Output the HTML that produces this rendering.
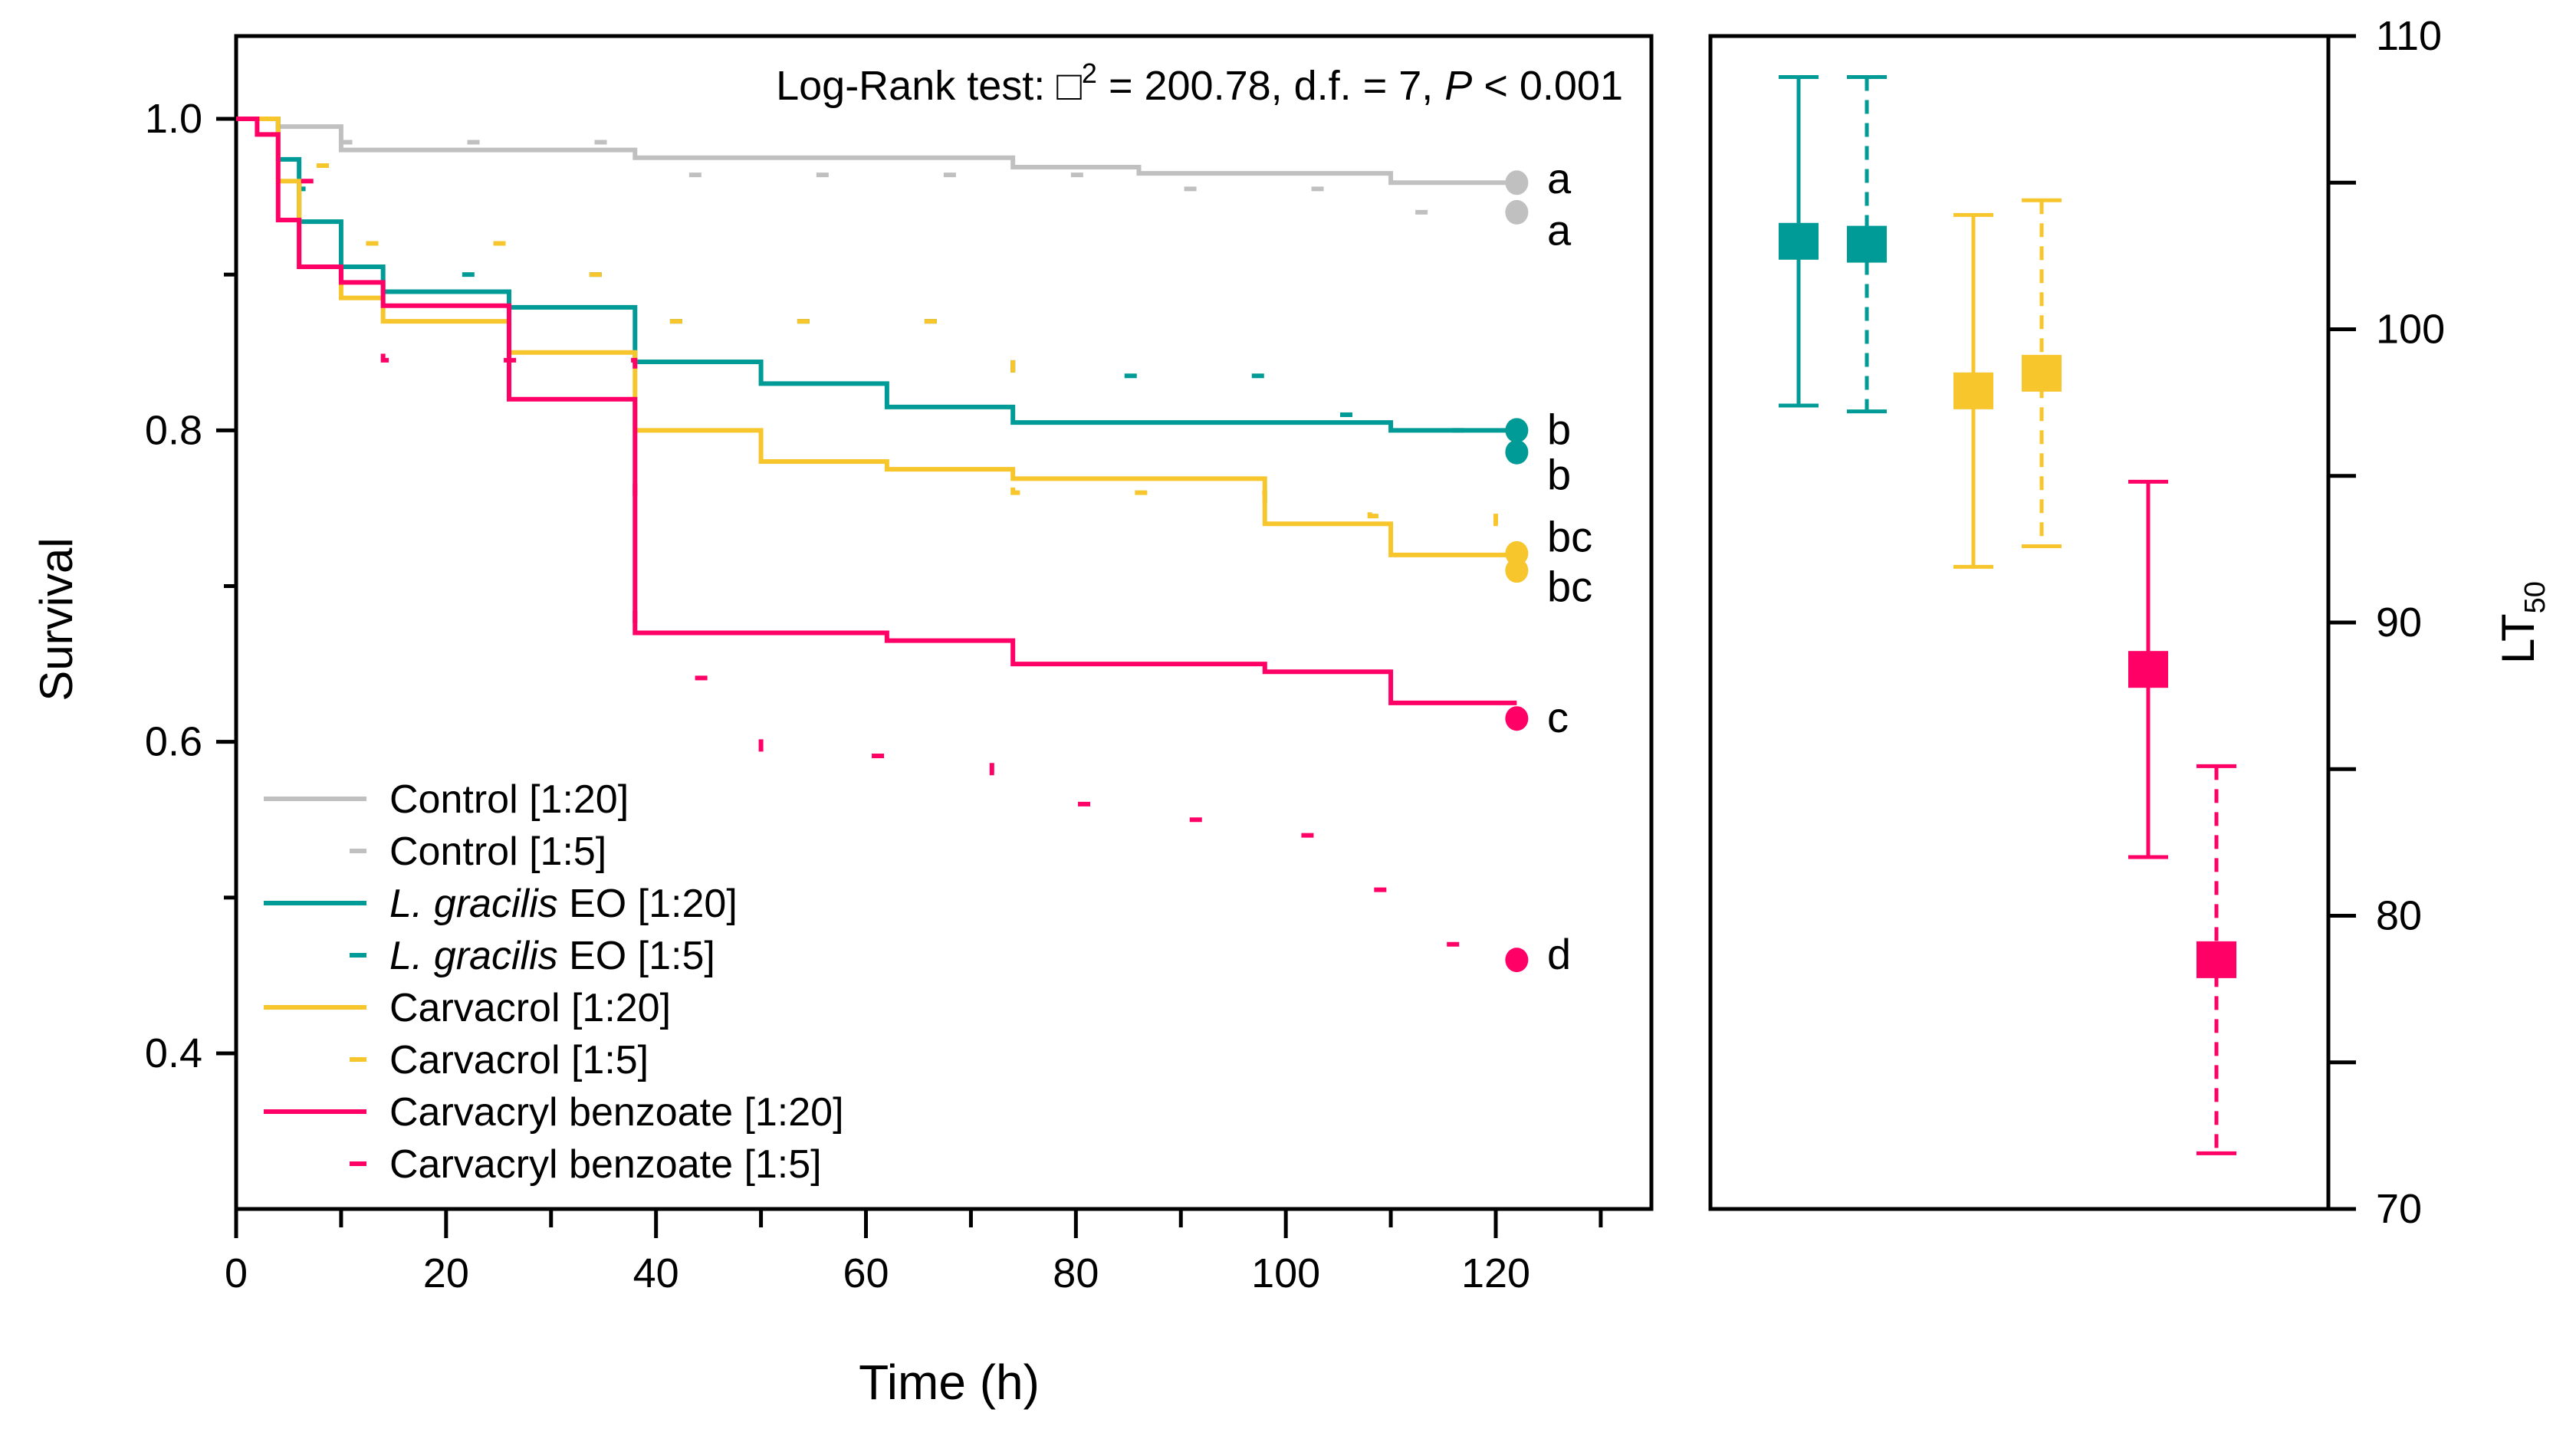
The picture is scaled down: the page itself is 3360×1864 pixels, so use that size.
<!DOCTYPE html>
<html><head><meta charset="utf-8"><style>
html,body{margin:0;padding:0;background:#fff}
svg{display:block}
text{font-family:"Liberation Sans",sans-serif;fill:#000}
</style></head><body>
<svg id="chart" width="3360" height="1864" viewBox="0 0 3360 1864" xmlns="http://www.w3.org/2000/svg">
<g id="km"></g>
<g id="lt"></g>
</svg>
<script>
// ---- Kaplan-Meier data ----
const seriesNames = ["Control [1:20]","Control [1:5]","L. gracilis EO [1:20]","L. gracilis EO [1:5]","Carvacrol [1:20]","Carvacrol [1:5]","Carvacryl benzoate [1:20]","Carvacryl benzoate [1:5]"];
const seriesColors = ["#c0c0c0","#c0c0c0","#009b96","#009b96","#f7c52c","#f7c52c","#ff0066","#ff0066"];
const seriesDashed = [false,true,false,true,false,true,false,true];
const ctrl20T = [0,4,10,38,74,86,110,122];
const ctrl20S = [1.0,0.995,0.980,0.975,0.969,0.965,0.959,0.959];
const ctrl5T = [0,4,10,38,86,110,122];
const ctrl5S = [1.0,0.99,0.985,0.964,0.955,0.940,0.940];
const lg20T = [0,4,6,10,14,26,38,50,62,74,110,122];
const lg20S = [1.0,0.974,0.934,0.905,0.889,0.879,0.844,0.830,0.815,0.805,0.800,0.800];
const lg5T = [0,4,6,8,14,38,74,98,110,120,122];
const lg5S = [1.0,0.975,0.955,0.920,0.90,0.87,0.835,0.81,0.80,0.795,0.786];
const cv20T = [0,4,6,10,14,26,38,50,62,74,98,110,122];
const cv20S = [1.0,0.96,0.905,0.885,0.870,0.850,0.800,0.780,0.775,0.769,0.740,0.720,0.720];
const cv5T = [0,4,10,26,38,74,98,108,120,122];
const cv5S = [1.0,0.97,0.92,0.90,0.87,0.76,0.754,0.745,0.74,0.710];
const cb20T = [0,2,4,6,10,14,26,38,62,74,98,110,122];
const cb20S = [1.0,0.99,0.935,0.905,0.895,0.880,0.820,0.670,0.665,0.650,0.645,0.625,0.625];
const cb5T = [0,4,10,14,38,50,62,72,74,86,98,108,110,122];
const cb5S = [1.0,0.96,0.86,0.845,0.641,0.591,0.59,0.58,0.56,0.55,0.54,0.505,0.47,0.46];
const endDots = [0.959,0.940,0.800,0.786,0.721,0.710,0.615,0.460];
const sigLetters = ["a","a","b","b","bc","bc","c","d"];
const letterY = [0.961,0.928,0.800,0.771,0.731,0.699,0.615,0.463];
const xTickLabels = [0,20,40,60,80,100,120];
const yTickLabels = ["0.4","0.6","0.8","1.0"];
// ---- LT50 data ----
const ltValues = [103.0,102.9,97.9,98.5,88.4,78.5];
const ltLower = [97.4,97.2,91.9,92.6,82.0,71.9];
const ltUpper = [108.6,108.6,103.9,104.4,94.8,85.1];
const ltColors = ["#009b96","#009b96","#f7c52c","#f7c52c","#ff0066","#ff0066"];
const ltDashed = [false,true,false,true,false,true];
const ltTicks = [70,80,90,100,110];

const NS="http://www.w3.org/2000/svg";
function mk(tag,attrs,parent){const e=document.createElementNS(NS,tag);for(const k in attrs)e.setAttribute(k,attrs[k]);parent.appendChild(e);return e;}
const km=document.getElementById('km'), lt=document.getElementById('lt');
const X0=308,X1=2154,Y0=47,Y1=1577;
const xs=t=>X0+t*(1951-X0)/120;
const ys=s=>155+(1-s)*(1374-155)/0.6;

let el=mk('rect',{x:X0,y:Y0,width:X1-X0,height:Y1-Y0,fill:'none',stroke:'#000','stroke-width':5},km);


for(let t=0;t<=130;t+=10){
  el=mk('line',{x1:xs(t),x2:xs(t),y1:Y1,y2:Y1+(t%20===0?38:24),stroke:'#000','stroke-width':5},km);
  
  
}
xTickLabels.forEach(v=>{
  el=mk('text',{x:xs(v),y:Y1+102,'font-size':54,'text-anchor':'middle'},km);el.textContent=v;
  
  
});
for(let i=0;i<=6;i++){const s=0.4+i*0.1;
  el=mk('line',{x1:X0,x2:X0-(i%2===0?26:16),y1:ys(s),y2:ys(s),stroke:'#000','stroke-width':5},km);
  
  
}
yTickLabels.forEach(v=>{
  el=mk('text',{x:X0-44,y:ys(+v)+18,'font-size':54,'text-anchor':'end'},km);el.textContent=v;
  
  
});
el=mk('text',{x:1238,y:1825,'font-size':64,'text-anchor':'middle'},km);el.textContent='Time (h)';


el=mk('text',{x:94,y:808,'font-size':60,'text-anchor':'middle',transform:'rotate(-90 94 808)'},km);el.textContent='Survival';


el=mk('text',{x:2117,y:130,'font-size':54,'text-anchor':'end'},km);
el.innerHTML='Log-Rank test: \u25A1<tspan dy="-22" font-size="36">2</tspan><tspan dy="22"> = 200.78, d.f. = 7, </tspan><tspan font-style="italic">P</tspan> &lt; 0.001';



const allT=[ctrl20T,ctrl5T,lg20T,lg5T,cv20T,cv5T,cb20T,cb5T];
const allS=[ctrl20S,ctrl5S,lg20S,lg5S,cv20S,cv5S,cb20S,cb5S];
allT.forEach((T,i)=>{
  const S=allS[i];let d=`M${xs(T[0])},${ys(S[0])}`;
  for(let k=1;k<T.length;k++){d+=` H${xs(T[k])} V${ys(S[k])}`;}
  const a={d,fill:'none',stroke:seriesColors[i],'stroke-width':6};
  if(seriesDashed[i])a['stroke-dasharray']='16 150';
  el=mk('path',a,km);
  
  
  el=mk('ellipse',{cx:xs(122),cy:ys(endDots[i]),rx:15,ry:16,fill:seriesColors[i]},km);
  
  
  el=mk('text',{x:2018,y:ys(letterY[i])+18,'font-size':56},km);el.textContent=sigLetters[i];
  
  
});
seriesNames.forEach((n,i)=>{
  const y=1042+i*68;
  if(seriesDashed[i]){el=mk('line',{x1:456,x2:478,y1:y,y2:y,stroke:seriesColors[i],'stroke-width':6},km);}
  else{el=mk('line',{x1:344,x2:478,y1:y,y2:y,stroke:seriesColors[i],'stroke-width':6},km);}
  
  
  el=mk('text',{x:508,y:y+18,'font-size':52},km);
  if(n.startsWith('L. gracilis')){el.innerHTML='<tspan font-style="italic">L. gracilis</tspan>'+n.slice(11);}else el.textContent=n;
  
  
});

// ---- LT50 panel ----
const RX0=2231,RX1=3037;
const ly=v=>Y0+(110-v)*(Y1-Y0)/40;
const lx=i=>2346+Math.floor(i/2)*228+(i%2)*89;
el=mk('rect',{x:RX0,y:Y0,width:RX1-RX0,height:Y1-Y0,fill:'none',stroke:'#000','stroke-width':5},lt);


for(let v=70;v<=110;v+=5){
  el=mk('line',{x1:RX1,x2:RX1+36,y1:ly(v),y2:ly(v),stroke:'#000','stroke-width':5},lt);
  
  
}
ltTicks.forEach(v=>{
  el=mk('text',{x:RX1+62,y:ly(v)+18,'font-size':54},lt);el.textContent=v;
  
  
});
el=mk('text',{x:3305,y:ly(90),'font-size':60,'text-anchor':'middle',transform:`rotate(-90 3305 ${ly(90)})`},lt);
el.innerHTML='LT<tspan font-size="38" dy="14">50</tspan>';


ltValues.forEach((v,i)=>{
  const x=lx(i),c=ltColors[i];
  const a={x1:x,x2:x,y1:ly(ltUpper[i]),y2:ly(ltLower[i]),stroke:c,'stroke-width':5};
  if(ltDashed[i])a['stroke-dasharray']='18 12';
  el=mk('line',a,lt);
  
  
  [ltUpper[i],ltLower[i]].forEach(w=>{
    el=mk('line',{x1:x-26,x2:x+26,y1:ly(w),y2:ly(w),stroke:c,'stroke-width':5},lt);
    
    
  });
  el=mk('rect',{x:x-26,y:ly(v)-24,width:52,height:48,fill:c},lt);
  
  
});
</script>
</body></html>
